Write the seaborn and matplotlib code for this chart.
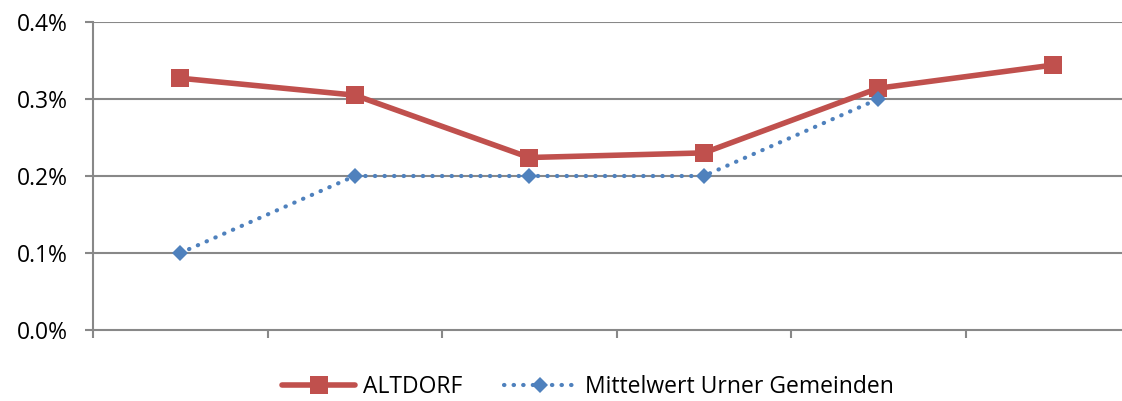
import numpy as np
import pandas as pd
import matplotlib.pyplot as plt
import seaborn as sns
from matplotlib.ticker import FuncFormatter

sns.set_theme(style="white")
plt.rcParams['font.family'] = ['Open Sans', 'DejaVu Sans']
plt.rcParams['text.color'] = 'black'

# Data (share in %, six periods, no labels on the x axis)
periods = [0, 1, 2, 3, 4, 5]
altdorf = [0.327, 0.305, 0.224, 0.230, 0.314, 0.344]
mittelwert = [0.1, 0.2, 0.2, 0.2, 0.3, np.nan]

df = pd.DataFrame({'period': periods, 'ALTDORF': altdorf,
                   'Mittelwert Urner Gemeinden': mittelwert})

red = '#C0504D'
blue = '#4F81BD'
grey = '#888888'

fig = plt.figure(figsize=(11.22, 4.01), dpi=100)
# axis runs past the right edge of the picture like in the original
ax = fig.add_axes([93 / 1122, 1 - 330 / 401, (1140 - 93) / 1122, (330 - 22) / 401])

sns.lineplot(data=df, x='period', y='ALTDORF', ax=ax, color=red, lw=4,
             marker='s', markersize=13, markeredgewidth=0, label='ALTDORF')
sns.lineplot(data=df.dropna(), x='period', y='Mittelwert Urner Gemeinden', ax=ax,
             color=blue, lw=3, linestyle=(0, (0.1, 2.2)), dash_capstyle='round',
             marker='D', markersize=8, markeredgewidth=0,
             label='Mittelwert Urner Gemeinden')

ax.set_xlim(-0.5, 5.5)
ax.set_ylim(0, 0.4)
ax.set_yticks([0, 0.1, 0.2, 0.3, 0.4])
ax.yaxis.set_major_formatter(FuncFormatter(lambda v, p: f'{v:.1f}%'))
ax.set_xticks(np.arange(-0.5, 5.6, 1))
ax.set_xticklabels([])
ax.set_xlabel('')
ax.set_ylabel('')

for y in [0.1, 0.2, 0.3, 0.4]:
    ax.axhline(y, color=grey, lw=1.5, zorder=0)

for s in ['top', 'right']:
    ax.spines[s].set_visible(False)
for s in ['left', 'bottom']:
    ax.spines[s].set_color(grey)
    ax.spines[s].set_linewidth(1.5)

ax.tick_params(axis='both', which='both', direction='out', length=6, width=1.5,
               color=grey, left=True, bottom=True)
ax.tick_params(axis='y', labelsize=16.5, pad=12, colors=grey, labelcolor='black')
ax.tick_params(axis='x', colors=grey)

handles, labels = ax.get_legend_handles_labels()
ax.get_legend().remove()
leg = fig.legend(handles, labels, loc='center', bbox_to_anchor=(0.524, 1 - 387 / 401),
                 ncol=2, frameon=False, fontsize=16.5, handlelength=3.2,
                 columnspacing=1.8, handletextpad=0.35)
for t in leg.get_texts():
    t.set_color('black')
for h in leg.legend_handles:
    h.set_dash_capstyle('round')

fig.savefig('out.png', dpi=100)
